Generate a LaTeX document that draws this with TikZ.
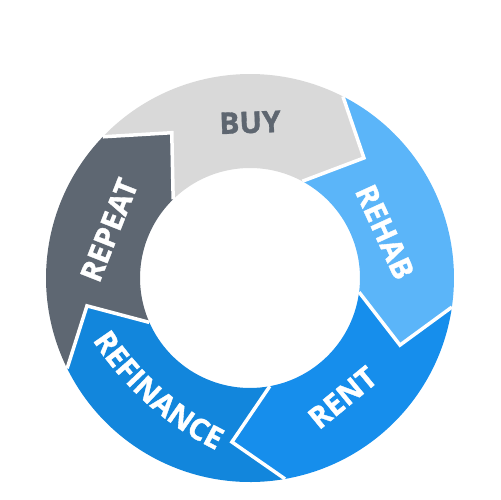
\documentclass[tikz,border=0pt]{standalone}
\usepackage{fontspec}
\setmainfont{Open Sans}
\newfontfamily\labfont{Open Sans}[BoldFeatures={FakeBold=1.2}]
\usetikzlibrary{decorations.text}
\definecolor{buyc}{HTML}{D9D9D9}
\definecolor{buytext}{HTML}{5E6670}
\definecolor{rehabc}{HTML}{5BB5F9}
\definecolor{rentc}{HTML}{168EEC}
\definecolor{refic}{HTML}{1286DC}
\definecolor{repc}{HTML}{5E6772}
\begin{document}
\begin{tikzpicture}[x=0.02cm,y=0.02cm,
  gap/.style={draw=white, line width=0.07cm, line join=miter},
  lab/.style={text=white, font=\labfont\bfseries\fontsize{17}{20}\selectfont, inner sep=0pt}]
\useasboundingbox (-250,-222) rectangle (250,278);
% boundary points: outer, tip, inner
\coordinate (b1o) at (136.2:204); \coordinate (b1t) at (118.3:165);   \coordinate (b1i) at (134.3:110);
\coordinate (b2o) at (62.9:204);  \coordinate (b2t) at (46.5:165.5);  \coordinate (b2i) at (61.6:110);
\coordinate (b3o) at (-8.2:204);  \coordinate (b3t) at (-24.1:164.3); \coordinate (b3i) at (-7.4:110);
\coordinate (b4o) at (-80.1:204); \coordinate (b4t) at (-96.3:165);   \coordinate (b4i) at (-79.6:110);
\coordinate (b5o) at (206.3:204); \coordinate (b5t) at (189.7:165.4); \coordinate (b5i) at (203.8:110);
% segments
\fill[buyc]   (b1o) arc[start angle=136.2, end angle=62.9, radius=4.08cm] -- (b2t) -- (b2i) arc[start angle=61.6, end angle=134.3, radius=2.2cm] -- (b1t) -- cycle;
\fill[rehabc] (b2o) arc[start angle=62.9, end angle=-8.2, radius=4.08cm] -- (b3t) -- (b3i) arc[start angle=-7.4, end angle=61.6, radius=2.2cm] -- (b2t) -- cycle;
\fill[rentc]  (b3o) arc[start angle=-8.2, end angle=-80.1, radius=4.08cm] -- (b4t) -- (b4i) arc[start angle=-79.6, end angle=-7.4, radius=2.2cm] -- (b3t) -- cycle;
\fill[refic]  (b4o) arc[start angle=-80.1, end angle=-153.7, radius=4.08cm] -- (b5t) -- (b5i) arc[start angle=-156.2, end angle=-79.6, radius=2.2cm] -- (b4t) -- cycle;
\fill[repc]   (b5o) arc[start angle=206.3, end angle=136.2, radius=4.08cm] -- (b1t) -- (b1i) arc[start angle=134.3, end angle=203.8, radius=2.2cm] -- (b5t) -- cycle;
% white gaps
\draw[gap] (b1o) -- (b1t) -- (b1i);
\draw[gap] (b2o) -- (b2t) -- (b2i);
\draw[gap] (b3o) -- (b3t) -- (b3i);
\draw[gap] (b4o) -- (b4t) -- (b4i);
\draw[gap] (b5o) -- (b5t) -- (b5i);
% labels
\node[lab, text=buytext, rotate=2] (buy) at (0,155.5) {BUY};
\node[lab, rotate=-65.5] (rehab) at (135,46) {REHAB};
\node[lab, rotate=39.4] (rent) at (92.5,-119.5) {RENT};
\node[lab, rotate=68.5] (repeat) at (-141,48) {REPEAT};
\path[shift={(103.6,106.4)}, decorate, decoration={text along path, text align=center, text color=white,
  text={|\labfont\bfseries\fontsize{17}{20}\selectfont|REFINANCE}}]
  (188.3:310.7) arc[start angle=188.3, end angle=268.3, radius=6.214cm];
\end{tikzpicture}
\end{document}
